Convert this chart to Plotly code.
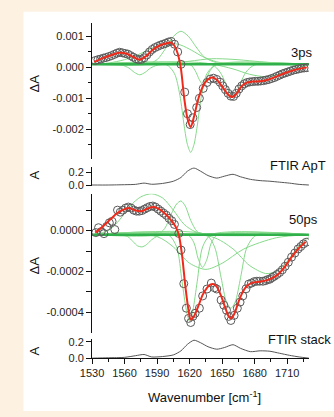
import plotly.graph_objects as go

W, H = 334, 417

# ---------------- data ----------------
# 3 ps transient (units of 1e-3 ΔA)
wn_3ps = [1533, 1535.5, 1538, 1540.5, 1543, 1545.5, 1548, 1550.5, 1553, 1555.5, 1558, 1560.5,
          1563, 1565.5, 1568, 1570.5, 1573, 1575.5, 1578, 1580.5, 1583, 1585.5, 1588, 1590.5,
          1593, 1595.5, 1598, 1600.5, 1603, 1606, 1609, 1612, 1615.5, 1618, 1620.5, 1623,
          1626.5, 1629, 1632.5, 1636, 1639, 1642, 1645, 1648, 1650.5, 1653, 1655.5, 1658,
          1660.5, 1663, 1665.5, 1668, 1670.5, 1673, 1675.5, 1678, 1680.5, 1683, 1685.5, 1688,
          1690.5, 1693, 1695.5, 1698, 1700.5, 1703, 1705.5, 1708, 1710.5, 1713, 1715.5, 1718,
          1720.5, 1723, 1725.5, 1728]
val_3ps = [0.22, 0.25, 0.27, 0.3, 0.32, 0.35, 0.38, 0.42, 0.46, 0.49, 0.47, 0.45,
           0.43, 0.38, 0.33, 0.28, 0.25, 0.26, 0.31, 0.4, 0.5, 0.58, 0.64, 0.68,
           0.72, 0.75, 0.78, 0.82, 0.84, 0.75, 0.5, 0.1, -0.8, -1.5, -1.85, -1.63,
           -1.3, -1.0, -0.68, -0.49, -0.38, -0.35, -0.39, -0.48, -0.6, -0.72, -0.84, -0.93,
           -0.94, -0.84, -0.7, -0.6, -0.53, -0.49, -0.47, -0.46, -0.45, -0.45, -0.44, -0.43,
           -0.41, -0.39, -0.36, -0.33, -0.29, -0.25, -0.21, -0.18, -0.15, -0.12, -0.09, -0.07,
           -0.05, -0.03, -0.02, -0.01]
fit_wn_3ps = [1532, 1540, 1548, 1555, 1562, 1568, 1574, 1580, 1586, 1592, 1598, 1603, 1606,
              1609, 1612, 1615, 1618, 1621, 1624, 1627, 1630, 1634, 1638, 1641, 1645, 1650,
              1655, 1659, 1663, 1667, 1672, 1678, 1685, 1692, 1700, 1708, 1716, 1722, 1728]
fit_3ps = [0.18, 0.3, 0.4, 0.47, 0.44, 0.34, 0.25, 0.37, 0.57, 0.7, 0.77, 0.8, 0.7,
           0.45, -0.05, -1.0, -1.65, -1.93, -1.6, -1.15, -0.8, -0.5, -0.36, -0.33, -0.4, -0.62,
           -0.86, -0.96, -0.86, -0.65, -0.5, -0.46, -0.45, -0.4, -0.3, -0.18, -0.09, -0.04, 0.0]

# 3 ps fit components (units of 1e-3)
base_3ps = 0.1
c1_wn_3ps = [1530, 1550, 1558, 1564, 1569, 1574, 1579, 1584, 1590, 1598, 1730]
c1_3ps = [0.1, 0.1, 0.07, -0.02, -0.16, -0.24, -0.16, -0.02, 0.07, 0.1, 0.1]
c2_wn_3ps = [1530, 1545, 1560, 1575, 1585, 1595, 1603, 1612, 1622, 1632, 1645, 1660, 1730]
c2_3ps = [0.1, 0.14, 0.25, 0.45, 0.62, 0.74, 0.78, 0.72, 0.55, 0.35, 0.18, 0.11, 0.1]
c3_wn_3ps = [1530, 1580, 1590, 1598, 1605, 1612, 1619, 1626, 1634, 1645, 1660, 1730]
c3_3ps = [0.1, 0.1, 0.25, 0.62, 1.0, 1.17, 1.0, 0.66, 0.32, 0.15, 0.1, 0.1]
c4_wn_3ps = [1530, 1598, 1606, 1611, 1615, 1618, 1621, 1624, 1627, 1631, 1636, 1645, 1730]
c4_3ps = [0.1, 0.1, -0.2, -0.9, -1.9, -2.5, -2.75, -2.5, -1.9, -0.9, -0.2, 0.1, 0.1]
c5_wn_3ps = [1530, 1620, 1625, 1629, 1632, 1635, 1639, 1645, 1730]
c5_3ps = [0.1, 0.1, -0.1, -0.4, -0.55, -0.4, -0.1, 0.1, 0.1]
c6_wn_3ps = [1530, 1640, 1648, 1653, 1657, 1660, 1663, 1667, 1672, 1680, 1730]
c6_3ps = [0.1, 0.1, -0.15, -0.5, -0.82, -0.9, -0.82, -0.5, -0.15, 0.08, 0.1]
c7_wn_3ps = [1530, 1640, 1660, 1675, 1690, 1705, 1720, 1730]
c7_3ps = [0.1, 0.1, -0.05, -0.22, -0.3, -0.2, -0.02, 0.1]
c8_wn_3ps = [1530, 1600, 1620, 1640, 1660, 1680, 1700, 1730]
c8_3ps = [0.1, 0.12, 0.2, 0.28, 0.26, 0.2, 0.14, 0.1]

# 50 ps transient (units of 1e-4 ΔA)
wn_50ps = [1533.5, 1536, 1538.5, 1541, 1543.5, 1546, 1548.5, 1551, 1553.5, 1556, 1558.5, 1561,
           1563.5, 1566, 1568.5, 1571, 1573.5, 1576, 1578.5, 1581, 1583.5, 1586, 1588.5, 1591,
           1593.5, 1596, 1598.5, 1601, 1603.5, 1606, 1610, 1612, 1614.6, 1617, 1619, 1621,
           1623, 1625, 1629, 1632, 1636, 1640, 1643, 1645, 1649, 1651.5, 1654, 1656, 1658,
           1661, 1664, 1666.5, 1669, 1672, 1674.5, 1677, 1679.5, 1682, 1684.5, 1687.6, 1690,
           1692, 1694, 1696, 1698, 1700.5, 1703, 1705.5, 1708, 1711, 1714, 1717, 1720,
           1722.5, 1725, 1727.5]
val_50ps = [-0.1, 0.14, -0.05, -0.15, 0.2, 0.38, 0.45, 0.05, 1.0, 0.9, 1.0, 1.1,
            1.15, 1.1, 1.0, 0.95, 0.95, 0.98, 1.05, 1.12, 1.18, 1.2, 1.15, 1.05,
            0.95, 0.85, 0.75, 0.6, 0.48, 0.3, -0.14, -0.95, -2.6, -3.8, -4.3, -4.5,
            -4.2, -4.05, -3.8, -3.2, -2.86, -2.57, -2.8, -2.86, -3.4, -3.65, -3.9, -4.2, -4.4,
            -4.15, -3.8, -3.5, -3.2, -2.85, -2.62, -2.57, -2.5, -2.48, -2.48, -2.48, -2.45,
            -2.4, -2.38, -2.3, -2.24, -2.15, -2.05, -1.92, -1.75, -1.55, -1.3, -1.1, -0.9,
            -0.78, -0.65, -0.57]
fit_wn_50ps = [1533, 1540, 1547, 1553, 1558, 1564, 1570, 1576, 1582, 1587, 1592, 1598, 1603,
               1607, 1610, 1613, 1616, 1619, 1621, 1624, 1628, 1632, 1636, 1639, 1642, 1645,
               1649, 1653, 1656, 1658, 1661, 1665, 1669, 1673, 1678, 1684, 1690, 1696, 1702,
               1708, 1714, 1720, 1727]
fit_50ps = [-0.1, 0.2, 0.55, 0.85, 1.0, 1.1, 0.98, 0.95, 1.1, 1.15, 1.05, 0.8, 0.5,
            0.2, -0.2, -1.2, -2.7, -3.9, -4.35, -4.2, -3.7, -3.15, -2.8, -2.65, -2.62, -2.75,
            -3.2, -3.8, -4.2, -4.3, -4.1, -3.5, -3.0, -2.7, -2.55, -2.5, -2.45, -2.33, -2.12,
            -1.75, -1.3, -0.9, -0.55]

# 50 ps fit components (units of 1e-4)
base_50ps = -0.2
d1_wn_50ps = [1530, 1555, 1563, 1568, 1572, 1576, 1580, 1585, 1592, 1730]
d1_50ps = [-0.2, -0.2, -0.3, -0.55, -0.75, -0.8, -0.7, -0.45, -0.25, -0.2]
d2_wn_50ps = [1530, 1545, 1555, 1565, 1575, 1585, 1595, 1605, 1615, 1625, 1640, 1730]
d2_50ps = [-0.2, 0.0, 0.5, 1.2, 1.65, 1.8, 1.6, 1.0, 0.3, -0.05, -0.2, -0.2]
d3_wn_50ps = [1530, 1590, 1597, 1603, 1608, 1612, 1616, 1621, 1627, 1635, 1730]
d3_50ps = [-0.2, -0.2, 0.1, 0.8, 1.3, 1.45, 1.2, 0.5, -0.05, -0.2, -0.2]
d4_wn_50ps = [1530, 1600, 1608, 1613, 1617, 1620, 1623, 1627, 1632, 1640, 1730]
d4_50ps = [-0.2, -0.2, -0.8, -2.5, -3.9, -4.45, -3.9, -2.5, -0.8, -0.2, -0.2]
d5_wn_50ps = [1530, 1618, 1624, 1628, 1632, 1636, 1640, 1646, 1730]
d5_50ps = [-0.2, -0.2, -0.6, -1.4, -1.8, -1.4, -0.6, -0.2, -0.2]
d6_wn_50ps = [1530, 1635, 1643, 1649, 1654, 1658, 1662, 1667, 1673, 1682, 1730]
d6_50ps = [-0.2, -0.2, -0.8, -2.3, -3.5, -3.8, -3.5, -2.3, -0.8, -0.2, -0.2]
d7_wn_50ps = [1530, 1640, 1660, 1675, 1690, 1700, 1710, 1720, 1730]
d7_50ps = [-0.2, -0.3, -0.9, -1.7, -2.1, -2.0, -1.5, -0.8, -0.3]
d8_wn_50ps = [1530, 1590, 1605, 1620, 1635, 1650, 1670, 1700, 1730]
d8_50ps = [-0.2, -0.3, -0.8, -1.6, -1.9, -1.6, -0.9, -0.35, -0.2]

# FTIR spectra
ftir_wn = [1530, 1545, 1560, 1570, 1578, 1585, 1595, 1605, 1612, 1618, 1624, 1630, 1637,
           1645, 1652, 1660, 1667, 1676, 1685, 1694, 1703, 1712, 1721, 1730]
ftir_apt = [0.0, 0.0, 0.005, 0.01, 0.03, 0.012, 0.025, 0.06, 0.12, 0.22, 0.27, 0.22, 0.15,
            0.11, 0.14, 0.17, 0.13, 0.09, 0.07, 0.06, 0.045, 0.03, 0.01, 0.0]
ftir_stack = [0.0, 0.005, 0.01, 0.03, 0.045, 0.015, 0.02, 0.04, 0.09, 0.17, 0.22, 0.19, 0.14,
              0.11, 0.13, 0.165, 0.12, 0.08, 0.09, 0.085, 0.06, 0.035, 0.015, 0.0]

x_ticks = [1530, 1560, 1590, 1620, 1650, 1680, 1710]

# ---------------- helpers ----------------
def px_x(p):
    return p / W

def px_y(p):
    return 1 - p / H

GREEN_LIGHT = "#86d98a"
GREEN_BASE = "#2fb04a"
RED = "#f02a1a"
CIRCLE = "#5a5a5a"
FONT = "Liberation Sans, Arial, sans-serif"

fig = go.Figure()

def add_components(comps, axis_id, scale):
    for wn, vals in comps:
        fig.add_trace(go.Scatter(x=wn, y=[v * scale for v in vals], mode="lines",
                                 line=dict(color=GREEN_LIGHT, width=1, shape="spline", smoothing=0.8),
                                 xaxis="x" + axis_id, yaxis="y" + axis_id, hoverinfo="skip"))

# panel 1 (3ps) -> axis 4 (top)
s1 = 1e-3
add_components([(c1_wn_3ps, c1_3ps), (c2_wn_3ps, c2_3ps), (c3_wn_3ps, c3_3ps), (c4_wn_3ps, c4_3ps),
                (c5_wn_3ps, c5_3ps), (c6_wn_3ps, c6_3ps), (c7_wn_3ps, c7_3ps), (c8_wn_3ps, c8_3ps)], "4", s1)
fig.add_trace(go.Scatter(x=[1530, 1730], y=[base_3ps * s1] * 2, mode="lines",
                         line=dict(color=GREEN_BASE, width=2.5), xaxis="x4", yaxis="y4"))
fig.add_trace(go.Scatter(x=wn_3ps, y=[v * s1 for v in val_3ps], mode="markers",
                         marker=dict(symbol="circle-open", size=8, color=CIRCLE, line=dict(width=1)),
                         xaxis="x4", yaxis="y4"))
fig.add_trace(go.Scatter(x=fit_wn_3ps, y=[v * s1 for v in fit_3ps], mode="lines",
                         line=dict(color=RED, width=2, shape="spline", smoothing=0.8),
                         xaxis="x4", yaxis="y4"))

# panel 2 (FTIR ApT) -> axis 3
fig.add_trace(go.Scatter(x=ftir_wn, y=ftir_apt, mode="lines",
                         line=dict(color="#555555", width=1, shape="spline", smoothing=0.7),
                         xaxis="x3", yaxis="y3"))

# panel 3 (50ps) -> axis 2
s3 = 1e-4
add_components([(d1_wn_50ps, d1_50ps), (d2_wn_50ps, d2_50ps), (d3_wn_50ps, d3_50ps), (d4_wn_50ps, d4_50ps),
                (d5_wn_50ps, d5_50ps), (d6_wn_50ps, d6_50ps), (d7_wn_50ps, d7_50ps), (d8_wn_50ps, d8_50ps)], "2", s3)
fig.add_trace(go.Scatter(x=[1530, 1730], y=[base_50ps * s3] * 2, mode="lines",
                         line=dict(color=GREEN_BASE, width=2.5), xaxis="x2", yaxis="y2"))
fig.add_trace(go.Scatter(x=wn_50ps, y=[v * s3 for v in val_50ps], mode="markers",
                         marker=dict(symbol="circle-open", size=8, color=CIRCLE, line=dict(width=1)),
                         xaxis="x2", yaxis="y2"))
fig.add_trace(go.Scatter(x=fit_wn_50ps, y=[v * s3 for v in fit_50ps], mode="lines",
                         line=dict(color=RED, width=2, shape="spline", smoothing=0.8),
                         xaxis="x2", yaxis="y2"))

# panel 4 (FTIR stack) -> axis 1
fig.add_trace(go.Scatter(x=ftir_wn, y=ftir_stack, mode="lines",
                         line=dict(color="#555555", width=1, shape="spline", smoothing=0.7),
                         xaxis="x", yaxis="y"))

xdom = [px_x(83), px_x(308)]
tickfont = dict(family=FONT, size=11, color="#222222")
axis_common = dict(showline=True, linecolor="#111111", linewidth=1, ticks="outside",
                   ticklen=5, tickwidth=1, tickcolor="#111111", showgrid=False, zeroline=False,
                   tickfont=tickfont)

hidden_x = dict(domain=xdom, range=[1530, 1730], visible=False, showgrid=False, zeroline=False)

fig.update_layout(
    width=W, height=H, margin=dict(l=0, r=0, t=0, b=0),
    paper_bgcolor="#fdf2e2", plot_bgcolor="rgba(0,0,0,0)", showlegend=False,
    hovermode=False,
    xaxis=dict(domain=xdom, range=[1530, 1730], tickmode="array", tickvals=x_ticks,
               anchor="y", minor=dict(ticks="outside", ticklen=3, tickcolor="#111111", dtick=15, tick0=1530),
               **axis_common),
    yaxis=dict(domain=[px_y(363), px_y(343)], range=[0, 0.24], anchor="x",
               tickmode="array", tickvals=[0, 0.2], ticktext=["0.0", "0.2"], **axis_common),
    xaxis2=dict(anchor="y2", **hidden_x),
    yaxis2=dict(domain=[px_y(337), px_y(195)], range=[-0.0005, 0.00018], anchor="x2",
                tickmode="array", tickvals=[0, -0.0002, -0.0004], ticktext=["0.0000", "-0.0002", "-0.0004"],
                minor=dict(ticks="outside", ticklen=5, tickcolor="#111111", tickvals=[0.0001, -0.0001, -0.0003]),
                **axis_common),
    xaxis3=dict(anchor="y3", **hidden_x),
    yaxis3=dict(domain=[px_y(187), px_y(168)], range=[-0.015, 0.28], anchor="x3",
                tickmode="array", tickvals=[0, 0.2], ticktext=["0.0", "0.2"], **axis_common),
    xaxis4=dict(anchor="y4", **hidden_x),
    yaxis4=dict(domain=[px_y(159), px_y(20)], range=[-0.00295, 0.00145], anchor="x4",
                tickmode="array", tickvals=[0.001, 0, -0.001, -0.002],
                ticktext=["0.001", "0.000", "-0.001", "-0.002"],
                minor=dict(ticks="outside", ticklen=3, tickcolor="#111111",
                           tickvals=[0.0005, -0.0005, -0.0015, -0.0025]),
                **axis_common),
    shapes=[dict(type="rect", xref="paper", yref="paper", x0=px_x(12), x1=1, y0=0, y1=px_y(9),
                 fillcolor="white", line=dict(width=0), layer="below")],
)

def ann(text, xp, yp, size=13, angle=0):
    fig.add_annotation(text=text, x=px_x(xp), y=px_y(yp), xref="paper", yref="paper",
                       showarrow=False, textangle=angle, xanchor="center", yanchor="middle",
                       font=dict(family=FONT, size=size, color="#111111"))

ann("3ps", 300, 51)
ann("FTIR ApT", 297, 166)
ann("50ps", 302, 221)
ann("FTIR stack", 298, 344)
ann("ΔA", 23, 82, 13, -90)
ann("A", 23, 176, 13, -90)
ann("ΔA", 23, 268, 13, -90)
ann("A", 23, 356, 13, -90)
ann("Wavenumber [cm<sup>-1</sup>]", 200, 403, 13)

fig.write_html("out.html", config={"displayModeBar": False, "staticPlot": True},
               post_script="document.body.style.margin='0';document.body.style.overflow='hidden';")
